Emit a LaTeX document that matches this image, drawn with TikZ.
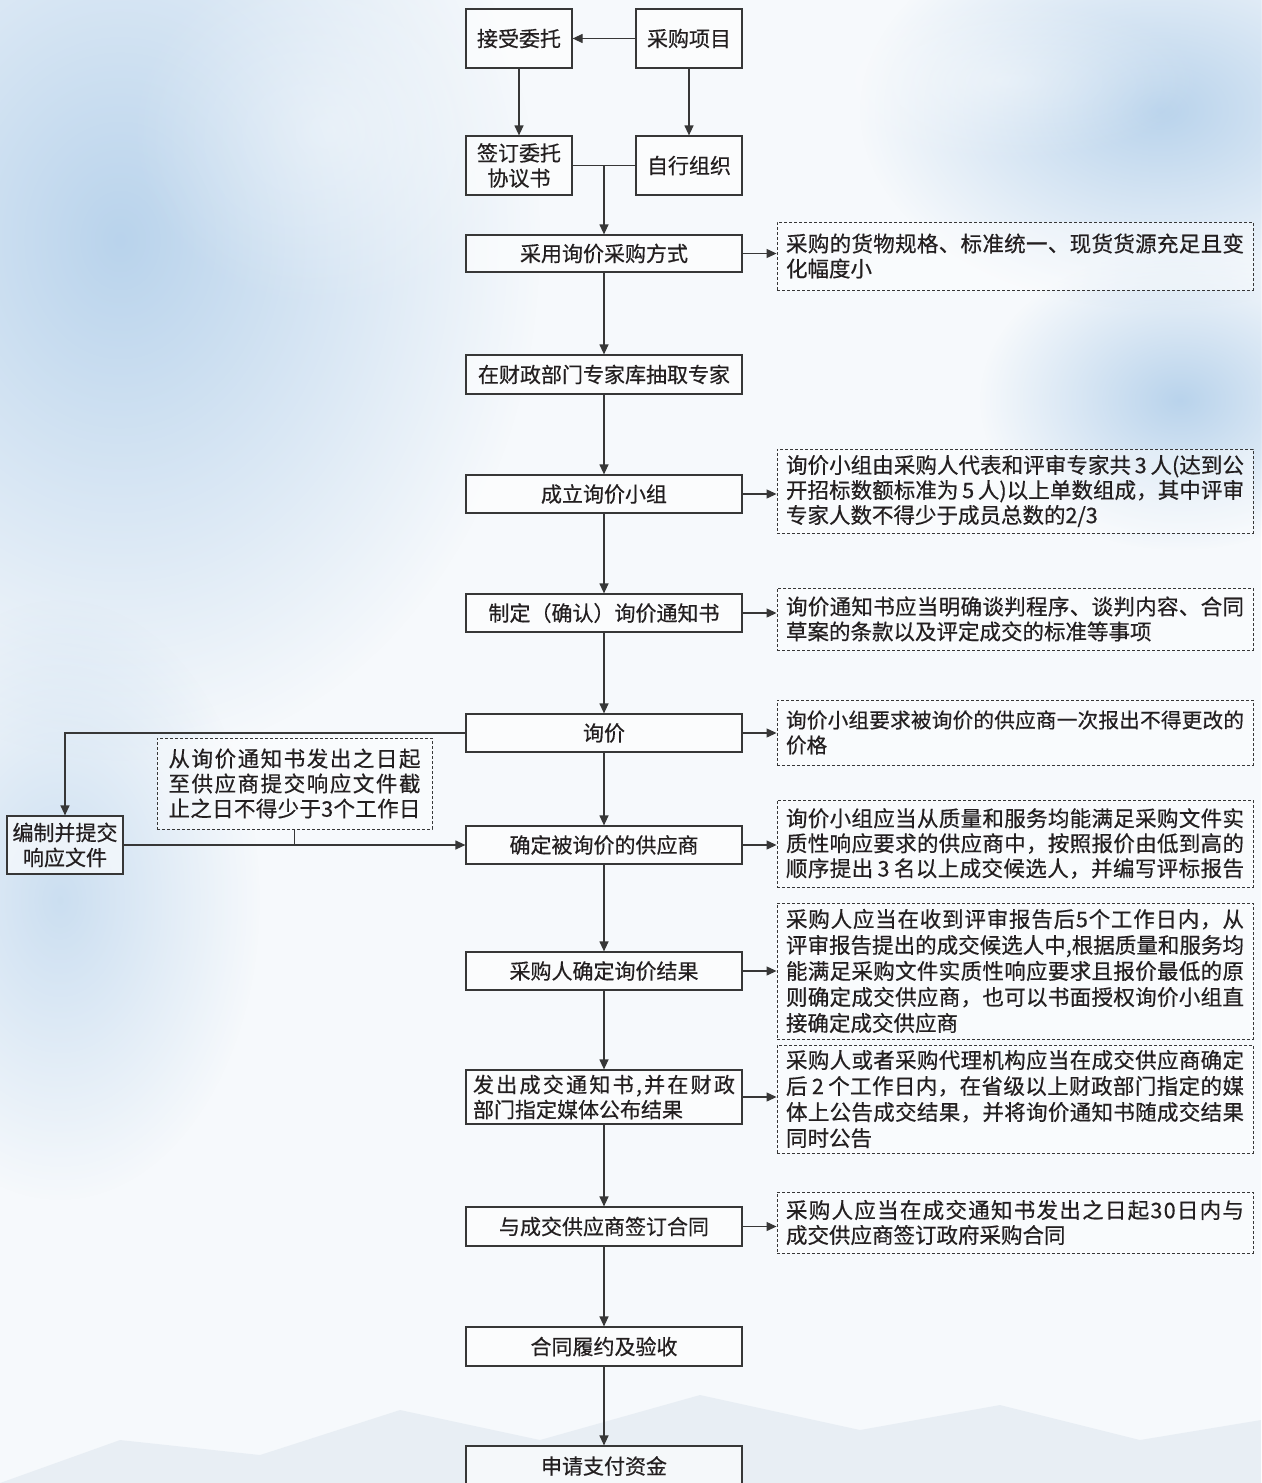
\documentclass[tikz,border=0pt]{standalone}
\usepackage{fontspec}
\setmainfont{Noto Sans CJK SC}[FakeBold=0.5]
\usetikzlibrary{arrows.meta,calc,fadings}
\definecolor{lc}{RGB}{55,55,55}
\definecolor{tx}{RGB}{35,31,32}
\definecolor{sky}{RGB}{170,202,232}
\definecolor{skyl}{RGB}{246,249,252}
\def\jlend{JLEND}
\newcommand\jl[2]{\hbox to #1{\jlB#2\jlend}}
\def\jlB#1{#1\jlA}
\def\jlA#1{\ifx#1\jlend\else\hfil#1\expandafter\jlA\fi}
\tikzfading[name=blob, inner color=transparent!20, outer color=transparent!100]
\begin{document}
\begin{tikzpicture}[x=1pt,y=-1pt,
 box/.style={draw=lc, line width=1.2pt, fill=white, fill opacity=0.6, text opacity=1, text=tx, font=\fontsize{21}{25}\selectfont, inner sep=0pt, align=center},
 mbox/.style={box, minimum width=276pt},
 sbox/.style={box, minimum width=106pt, minimum height=59pt},
 note/.style={draw=lc, dash pattern=on 3pt off 2pt, line width=0.9pt, fill=white, fill opacity=0.4, text opacity=1, text=tx, minimum width=476pt, inner sep=0pt, align=left, font=\fontsize{21.5}{25}\selectfont},
 arr/.style={draw=lc, line width=1.2pt, -{Triangle[length=10pt,width=9pt]}},
 conn/.style={draw=lc, line width=1.2pt}]
% background
\useasboundingbox (0,0) rectangle (1261,1483);
\fill[skyl] (0,0) rectangle (1261,1483);
\fill[sky, path fading=blob] (120,240) ellipse (420 and 520);
\fill[sky, path fading=blob] (1160,110) ellipse (300 and 200);
\fill[sky, path fading=blob] (1180,400) ellipse (200 and 150);
\fill[sky, opacity=0.7, path fading=blob] (60,900) ellipse (200 and 300);
\fill[white, opacity=0.5, path fading=blob] (330,130) ellipse (200 and 180);
\fill[white, opacity=0.5, path fading=blob] (1000,80) ellipse (200 and 80);
\fill[sky!70!gray, opacity=0.15] (0,1483) -- (120,1440) -- (260,1455) -- (400,1410) -- (540,1440) -- (700,1395) -- (860,1430) -- (1000,1405) -- (1140,1440) -- (1261,1420) -- (1261,1483) -- cycle;

% top boxes
\node[sbox] (accept) at (519,38.5) {接受委托};
\node[sbox] (proj) at (689,38.5) {采购项目};
\node[sbox] (sign) at (519,165.5) {签订委托\\协议书};
\node[sbox] (self) at (689,165.5) {自行组织};

% main column
\node[mbox, minimum height=37pt] (b1) at (604,253.5) {采用询价采购方式};
\node[mbox, minimum height=39pt] (b2) at (604,374.5) {在财政部门专家库抽取专家};
\node[mbox, minimum height=38pt] (b3) at (604,494) {成立询价小组};
\node[mbox, minimum height=38pt] (b4) at (604,613) {制定（确认）询价通知书};
\node[mbox, minimum height=38pt] (b5) at (604,733) {询价};
\node[mbox, minimum height=38pt] (b6) at (604,845) {确定被询价的供应商};
\node[mbox, minimum height=38pt] (b7) at (604,971) {采购人确定询价结果};
\node[mbox, minimum height=54pt, align=left] (b8) at (604,1097) {\jl{262pt}{发出成交通知书,并在财政}\\部门指定媒体公布结果};
\node[mbox, minimum height=39pt] (b9) at (604,1226.5) {与成交供应商签订合同};
\node[mbox, minimum height=39pt] (b10) at (604,1346.5) {合同履约及验收};
\node[mbox, minimum height=40pt] (b11) at (604,1466) {申请支付资金};

% left side
\node[box, minimum width=116pt, minimum height=58pt] (bz) at (65,845) {编制并提交\\响应文件};
\node[note, minimum width=275pt, minimum height=91pt] (ln) at (294.5,783.5) {\jl{252pt}{从询价通知书发出之日起}\\\jl{252pt}{至供应商提交响应文件截}\\\jl{252pt}{止之日不得少于3个工作日}};

% notes
\node[note, minimum height=68pt] (n1) at (1015,256) {\jl{458pt}{采购的货物规格、标准统一、现货货源充足且变}\\化幅度小};
\node[note, minimum height=84pt] (n2) at (1015,491) {\jl{458pt}{询价小组由采购人代表和评审专家共\,3\,人(达到公}\\\jl{458pt}{开招标数额标准为\,5\,人)以上单数组成，其中评审}\\专家人数不得少于成员总数的2/3};
\node[note, minimum height=62pt] (n3) at (1015,619) {\jl{458pt}{询价通知书应当明确谈判程序、谈判内容、合同}\\草案的条款以及评定成交的标准等事项};
\node[note, minimum height=65pt, font=\fontsize{20.6}{25}\selectfont] (n4) at (1015,732.5) {\jl{458pt}{询价小组要求被询价的供应商一次报出不得更改的}\\价格};
\node[note, minimum height=87pt] (n5) at (1015,843.5) {\jl{458pt}{询价小组应当从质量和服务均能满足采购文件实}\\\jl{458pt}{质性响应要求的供应商中，按照报价由低到高的}\\\jl{458pt}{顺序提出\,3\,名以上成交候选人，并编写评标报告}};
\node[note, minimum height=136pt, font=\fontsize{21.5}{26}\selectfont] (n6) at (1015,971) {\jl{458pt}{采购人应当在收到评审报告后5个工作日内，从}\\\jl{458pt}{评审报告提出的成交候选人中,根据质量和服务均}\\\jl{458pt}{能满足采购文件实质性响应要求且报价最低的原}\\\jl{458pt}{则确定成交供应商，也可以书面授权询价小组直}\\接确定成交供应商};
\node[note, minimum height=108pt, font=\fontsize{21.5}{26}\selectfont] (n7) at (1015,1099) {\jl{458pt}{采购人或者采购代理机构应当在成交供应商确定}\\\jl{458pt}{后\,2\,个工作日内，在省级以上财政部门指定的媒}\\\jl{458pt}{体上公告成交结果，并将询价通知书随成交结果}\\同时公告};
\node[note, minimum height=61pt] (n8) at (1015,1222.5) {\jl{458pt}{采购人应当在成交通知书发出之日起30日内与}\\成交供应商签订政府采购合同};

% connectors top
\draw[arr] (proj.west) -- (accept.east);
\draw[arr] (accept.south) -- (sign.north);
\draw[arr] (proj.south) -- (self.north);
\draw[conn] (sign.east) -- (self.west);
\coordinate (j) at ($(sign.east)!0.5!(self.west)$);
\draw[arr] (j) -- (j |- b1.north);

% main chain
\draw[arr] (b1.south) -- (b2.north);
\draw[arr] (b2.south) -- (b3.north);
\draw[arr] (b3.south) -- (b4.north);
\draw[arr] (b4.south) -- (b5.north);
\draw[arr] (b5.south) -- (b6.north);
\draw[arr] (b6.south) -- (b7.north);
\draw[arr] (b7.south) -- (b8.north);
\draw[arr] (b8.south) -- (b9.north);
\draw[arr] (b9.south) -- (b10.north);
\draw[arr] (b10.south) -- (b11.north);

% notes arrows
\draw[arr] (b1.east) -- (b1.east -| n1.west);
\draw[arr] (b3.east) -- (b3.east -| n2.west);
\draw[arr] (b4.east) -- (b4.east -| n3.west);
\draw[arr] (b5.east) -- (b5.east -| n4.west);
\draw[arr] (b6.east) -- (b6.east -| n5.west);
\draw[arr] (b7.east) -- (b7.east -| n6.west);
\draw[arr] (b8.east) -- (b8.east -| n7.west);
\draw[arr] (b9.east) -- (b9.east -| n8.west);

% left loop
\draw[arr] (b5.west) -| (bz.north);
\draw[arr] (bz.east) -- (b6.west);
\draw[conn] (ln.south) -- (ln.south |- bz.east);
\end{tikzpicture}
\end{document}
